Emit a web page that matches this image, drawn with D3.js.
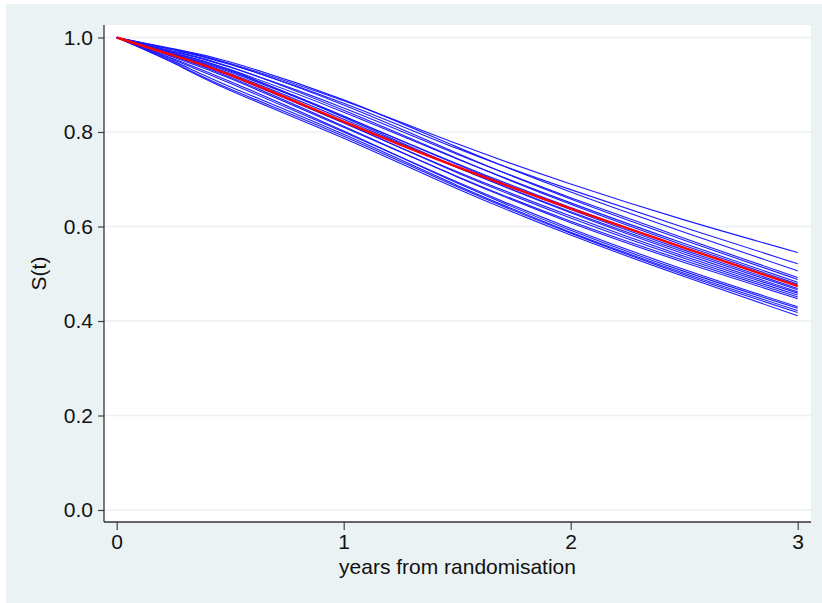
<!DOCTYPE html>
<html>
<head>
<meta charset="utf-8">
<script src="https://cdn.jsdelivr.net/npm/d3@7"></script>
<style>
  html, body { margin: 0; padding: 0; background: #ffffff; }
  svg { display: block; }
  text { font-family: "Liberation Sans", Arial, sans-serif; fill: #111; }
</style>
</head>
<body>
<svg id="chart" width="822" height="603"></svg>
<script>
// Follow-up times (years) at which each survival curve is evaluated
const times = [0, 0.25, 0.5, 1, 1.5, 2, 2.5, 3];

// Survival curves from the individual imputations / replicates
const replicateCurves = [
  [1, 0.975, 0.945, 0.866, 0.775, 0.690, 0.614, 0.545],
  [1, 0.974, 0.943, 0.861, 0.765, 0.678, 0.598, 0.521],
  [1, 0.976, 0.948, 0.868, 0.768, 0.673, 0.588, 0.506],
  [1, 0.970, 0.937, 0.851, 0.753, 0.661, 0.575, 0.492],
  [1, 0.974, 0.944, 0.857, 0.755, 0.658, 0.571, 0.488],
  [1, 0.968, 0.932, 0.842, 0.743, 0.650, 0.564, 0.482],
  [1, 0.971, 0.938, 0.846, 0.744, 0.647, 0.560, 0.478],
  [1, 0.965, 0.927, 0.833, 0.733, 0.640, 0.555, 0.475],
  [1, 0.966, 0.929, 0.834, 0.731, 0.636, 0.550, 0.469],
  [1, 0.964, 0.924, 0.827, 0.725, 0.631, 0.546, 0.466],
  [1, 0.967, 0.931, 0.831, 0.726, 0.629, 0.542, 0.462],
  [1, 0.961, 0.919, 0.819, 0.716, 0.622, 0.537, 0.459],
  [1, 0.962, 0.921, 0.820, 0.714, 0.618, 0.533, 0.455],
  [1, 0.958, 0.913, 0.810, 0.706, 0.611, 0.528, 0.451],
  [1, 0.960, 0.916, 0.812, 0.705, 0.608, 0.524, 0.447],
  [1, 0.953, 0.903, 0.800, 0.694, 0.596, 0.509, 0.430],
  [1, 0.955, 0.907, 0.802, 0.692, 0.592, 0.505, 0.427],
  [1, 0.950, 0.896, 0.795, 0.687, 0.588, 0.501, 0.422],
  [1, 0.947, 0.891, 0.791, 0.684, 0.586, 0.498, 0.418],
  [1, 0.946, 0.888, 0.787, 0.680, 0.582, 0.494, 0.411]
];

// Pooled (average) survival curve
const pooledCurve = [1, 0.962, 0.921, 0.822, 0.726, 0.638, 0.555, 0.474];

// Axis ticks
const xTicks = [0, 1, 2, 3];
const yTicks = [0, 0.2, 0.4, 0.6, 0.8, 1.0];

const xTitle = "years from randomisation";
const yTitle = "S(t)";

const svg = d3.select("#chart");
const fontSize = "21px";

// Graph region and plot region geometry
const outer = { x: 6, y: 4, w: 822 - 6, h: 603 - 4 };
const plot = { left: 104, top: 25, right: 811, bottom: 522 };

const x = d3.scaleLinear().domain([0, 3]).range([116.7, 797.7]);
const y = d3.scaleLinear().domain([0, 1]).range([510, 37.5]);

svg.append("rect")
  .attr("x", outer.x).attr("y", outer.y)
  .attr("width", outer.w).attr("height", outer.h)
  .attr("fill", "#eaf2f3");

svg.append("rect")
  .attr("x", plot.left).attr("y", plot.top)
  .attr("width", plot.right - plot.left).attr("height", plot.bottom - plot.top)
  .attr("fill", "#ffffff");

// Horizontal grid lines
svg.append("g")
  .selectAll("line")
  .data(yTicks)
  .join("line")
  .attr("x1", plot.left).attr("x2", plot.right)
  .attr("y1", d => y(d)).attr("y2", d => y(d))
  .attr("stroke", "#eaf2f3")
  .attr("stroke-width", 1.6);

// Y axis
const yAxis = d3.axisLeft(y)
  .tickValues(yTicks)
  .tickFormat(d3.format(".1f"))
  .tickSize(6)
  .tickPadding(5);

const gy = svg.append("g")
  .attr("transform", `translate(${plot.left},0)`)
  .call(yAxis);
gy.select(".domain").remove();
gy.selectAll(".tick line").attr("stroke", "#444").attr("stroke-width", 1.2);
gy.selectAll(".tick text")
  .attr("font-size", fontSize)
  .attr("font-family", "Liberation Sans, Arial, sans-serif")
  .attr("fill", "#111");
svg.append("line")
  .attr("x1", plot.left).attr("x2", plot.left)
  .attr("y1", plot.top).attr("y2", plot.bottom)
  .attr("stroke", "#333").attr("stroke-width", 1.3);

// X axis
const xAxis = d3.axisBottom(x)
  .tickValues(xTicks)
  .tickFormat(d3.format("d"))
  .tickSize(8)
  .tickPadding(4);

const gx = svg.append("g")
  .attr("transform", `translate(0,${plot.bottom})`)
  .call(xAxis);
gx.select(".domain").remove();
gx.selectAll(".tick line").attr("stroke", "#444").attr("stroke-width", 1.2);
gx.selectAll(".tick text")
  .attr("font-size", fontSize)
  .attr("font-family", "Liberation Sans, Arial, sans-serif")
  .attr("fill", "#111");
svg.append("line")
  .attr("x1", plot.left).attr("x2", plot.right)
  .attr("y1", plot.bottom).attr("y2", plot.bottom)
  .attr("stroke", "#333").attr("stroke-width", 1.3);

// Axis titles
svg.append("text")
  .attr("x", (plot.left + plot.right) / 2)
  .attr("y", 574)
  .attr("text-anchor", "middle")
  .attr("font-size", fontSize)
  .text(xTitle);

svg.append("text")
  .attr("transform", `translate(46,${(plot.top + plot.bottom) / 2}) rotate(-90)`)
  .attr("text-anchor", "middle")
  .attr("font-size", fontSize)
  .text(yTitle);

// Survival curves, smoothed through the evaluated points
const line = d3.line()
  .x((d, i) => x(times[i]))
  .y(d => y(d))
  .curve(d3.curveNatural);

svg.append("g")
  .selectAll("path")
  .data(replicateCurves)
  .join("path")
  .attr("d", line)
  .attr("fill", "none")
  .attr("stroke", "#1a1aff")
  .attr("stroke-width", 1.1);

svg.append("path")
  .datum(pooledCurve)
  .attr("d", line)
  .attr("fill", "none")
  .attr("stroke", "#ff0000")
  .attr("stroke-width", 2.4);
</script>
</body>
</html>
